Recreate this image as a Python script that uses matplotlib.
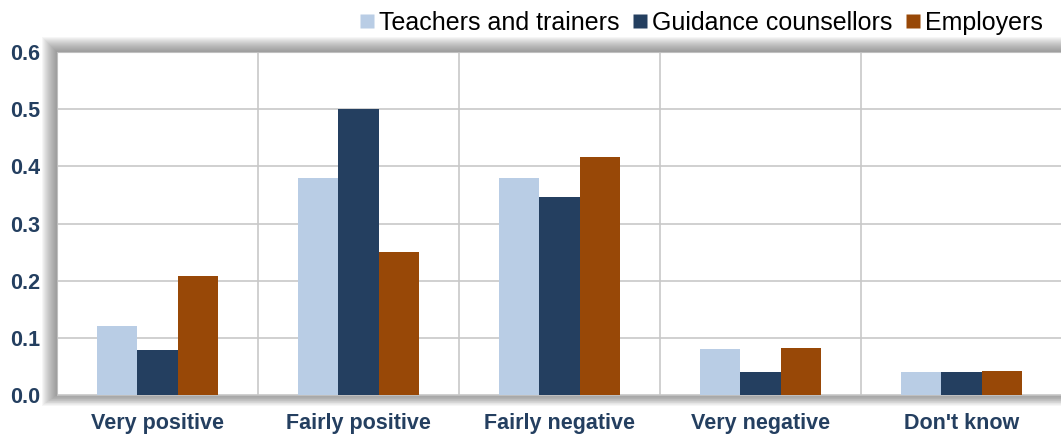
import numpy as np
import matplotlib.pyplot as plt
from matplotlib.patches import Rectangle
from matplotlib.lines import Line2D

plt.rcParams['font.family'] = ['Liberation Sans', 'DejaVu Sans']

categories = ['Very positive', 'Fairly positive', 'Fairly negative',
              'Very negative', "Don't know"]
series = ['Teachers and trainers', 'Guidance counsellors', 'Employers']
teachers = [0.12, 0.38, 0.38, 0.08, 0.04]
counsellors = [0.078, 0.50, 0.347, 0.04, 0.04]
employers = [0.208, 0.25, 0.417, 0.083, 0.042]
colors = ['#B9CDE5', '#243F60', '#984807']

W, H = 1061, 434
fig = plt.figure(figsize=(W / 100, H / 100), dpi=100)
left, right, top, bottom = 57, 1062, 52, 395
ax = fig.add_axes([left / W, (H - bottom) / H,
                   (right - left) / W, (bottom - top) / H])

# soft grey shadow around the plot area
for k in range(1, 16):
    fig.patches.append(Rectangle(((left - k) / W, (H - bottom - k * 0.7) / H),
                                 (right - left + 2 * k) / W,
                                 (bottom - top + k * 1.7) / H,
                                 transform=fig.transFigure, facecolor='#555555',
                                 edgecolor='none', alpha=0.05, zorder=-5))

x = np.arange(len(categories))
width = 0.2
for i, (vals, name) in enumerate(zip([teachers, counsellors, employers], series)):
    ax.bar(x + (i - 1) * width, vals, width, color=colors[i], label=name,
           zorder=3)

ax.set_xlim(-0.5, len(categories) - 0.5)
ax.set_ylim(0, 0.6)
ax.set_yticks(np.arange(0, 0.61, 0.1))
ax.set_yticklabels([f'{v:.1f}' for v in np.arange(0, 0.61, 0.1)])
ax.set_xticks(x)
ax.set_xticklabels(categories)
ax.yaxis.grid(True, color='#C8C8C8', linewidth=1.2, zorder=0)
for b in x[:-1] + 0.5:
    ax.axvline(b, color='#C8C8C8', linewidth=1.2, zorder=0)
ax.tick_params(length=0, labelsize=15.5, labelcolor='#243F60')
for lab in ax.get_xticklabels() + ax.get_yticklabels():
    lab.set_fontweight('bold')
ax.tick_params(axis='x', pad=13)
ax.tick_params(axis='y', pad=12)
for s in ax.spines.values():
    s.set_color('#BFBFBF')
ax.set_facecolor('white')

handles = [Line2D([], [], marker='s', linestyle='none', markersize=9.5,
                  markerfacecolor=c, markeredgecolor='none') for c in colors]
fig.legend(handles, series, ncol=3, loc='upper right',
           bbox_to_anchor=(1058 / W, 1.01), frameon=False, fontsize=18,
           handlelength=0.5, handletextpad=0.25, columnspacing=0.55,
           borderpad=0.1)

fig.savefig('out.png', dpi=100)
